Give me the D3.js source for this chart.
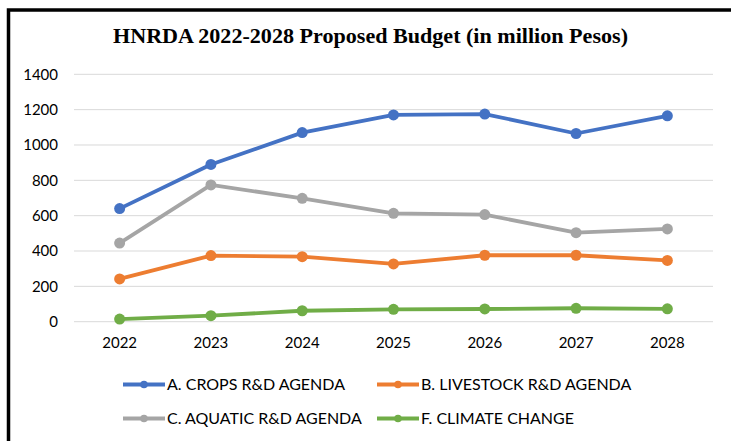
<!DOCTYPE html>
<html>
<head>
<meta charset="utf-8">
<script src="https://cdn.jsdelivr.net/npm/d3@7"></script>
<style>
	body { margin: 0; background: #fff; }
	svg { display: block; }
</style>
</head>
<body>
<svg id="chart" width="731" height="441"></svg>
<script>
const YEARS = ['2022', '2023', '2024', '2025', '2026', '2027', '2028'];
const CROPS = [640, 890, 1070, 1170, 1175, 1065, 1165];
const LIVESTOCK = [242, 374, 368, 327, 376, 376, 347];
const AQUATIC = [445, 774, 698, 613, 606, 504, 525];
const CLIMATE = [15, 34, 62, 70, 72, 76, 73];
const Y_TICKS = [0, 200, 400, 600, 800, 1000, 1200, 1400];

const SERIES = [
	{ name: 'A. CROPS R&D AGENDA', values: CROPS, color: '#4472c4' },
	{ name: 'B. LIVESTOCK R&D AGENDA', values: LIVESTOCK, color: '#ed7d31' },
	{ name: 'C. AQUATIC R&D AGENDA', values: AQUATIC, color: '#a5a5a5' },
	{ name: 'F. CLIMATE CHANGE', values: CLIMATE, color: '#70ad47' }
];

const FONT = 'Lato, "Open Sans", sans-serif';

const $svg = d3.select('#chart');

// frame: thick line on top and left only
$svg.append('path')
	.attr('d', 'M8.5,441 V10 H731')
	.attr('fill', 'none')
	.attr('stroke', '#000')
	.attr('stroke-width', 3.5);

$svg.append('text')
	.attr('x', 113)
	.attr('y', 43)
	.attr('font-family', '"Liberation Serif", "Times New Roman", serif')
	.attr('font-weight', 'bold')
	.attr('font-size', 20)
	.attr('textLength', 515)
	.attr('lengthAdjust', 'spacingAndGlyphs')
	.text('HNRDA 2022-2028 Proposed Budget (in million Pesos)');

const x = d3.scaleBand().domain(YEARS).range([74, 713]);
const y = d3.scaleLinear().domain([0, 1400]).range([321.7, 74.3]);
const cx = d => x(d) + x.bandwidth() / 2;

// grid
$svg.append('g')
	.selectAll('line')
	.data(Y_TICKS)
	.join('line')
	.attr('x1', 74)
	.attr('x2', 713)
	.attr('y1', d => y(d))
	.attr('y2', d => y(d))
	.attr('stroke', '#d9d9d9')
	.attr('stroke-width', 1);

const yAxis = $svg.append('g')
	.attr('transform', 'translate(58,0)')
	.call(d3.axisLeft(y).tickValues(Y_TICKS).tickFormat(d3.format('d')).tickSize(0).tickPadding(0));
yAxis.select('.domain').remove();
yAxis.selectAll('text')
	.attr('font-family', FONT)
	.attr('font-size', 15)
	.attr('fill', '#000');

const xAxis = $svg.append('g')
	.attr('transform', 'translate(0,333)')
	.call(d3.axisBottom(x).tickSize(0).tickPadding(4));
xAxis.select('.domain').remove();
xAxis.selectAll('text')
	.attr('font-family', FONT)
	.attr('font-size', 15)
	.attr('fill', '#000');

const line = d3.line()
	.x((d, i) => cx(YEARS[i]))
	.y(d => y(d));

const $series = $svg.append('g')
	.selectAll('g')
	.data(SERIES)
	.join('g');

$series.append('path')
	.attr('d', d => line(d.values))
	.attr('fill', 'none')
	.attr('stroke', d => d.color)
	.attr('stroke-width', 3.8)
	.attr('stroke-linejoin', 'round');

$series.selectAll('circle')
	.data(d => d.values.map(v => ({ v, color: d.color })))
	.join('circle')
	.attr('cx', (d, i) => cx(YEARS[i]))
	.attr('cy', d => y(d.v))
	.attr('r', 5.5)
	.attr('fill', d => d.color);

// legend
const legendPos = [[123, 384.5], [377, 384.5], [123, 418.5], [377, 418.5]];
const $legend = $svg.append('g')
	.selectAll('g')
	.data(SERIES)
	.join('g')
	.attr('transform', (d, i) => `translate(${legendPos[i][0]},${legendPos[i][1]})`);

$legend.append('line')
	.attr('x1', 0)
	.attr('x2', 42)
	.attr('stroke', d => d.color)
	.attr('stroke-width', 3.8);
$legend.append('circle')
	.attr('cx', 21)
	.attr('r', 3.8)
	.attr('fill', d => d.color);
$legend.append('text')
	.attr('x', 44)
	.attr('dy', '0.36em')
	.attr('font-family', FONT)
	.attr('font-size', 16)
	.attr('fill', '#000')
	.text(d => d.name);
</script>
</body>
</html>
